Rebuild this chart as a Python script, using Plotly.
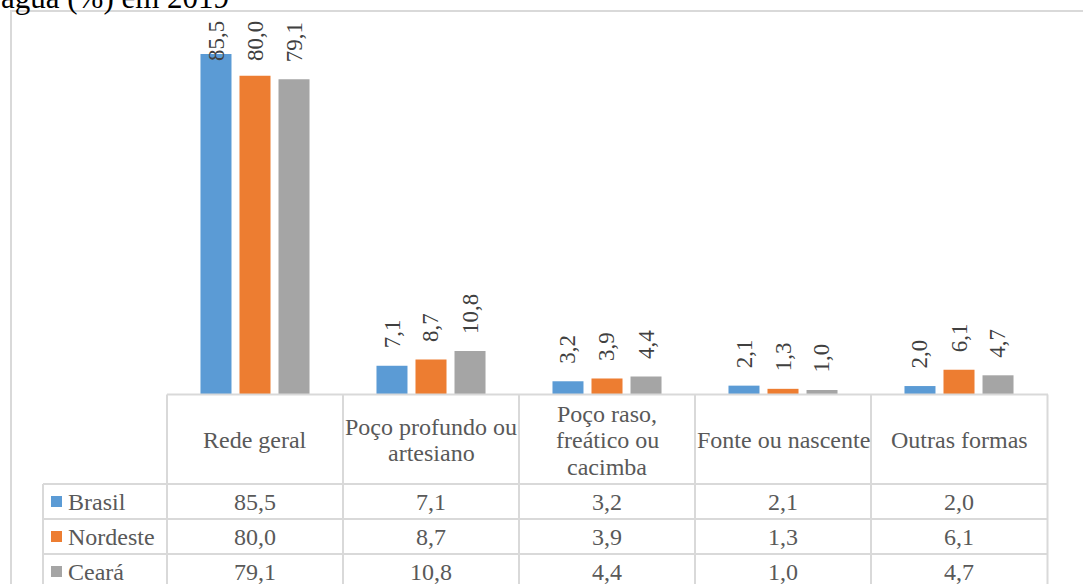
import plotly.graph_objects as go

categories = ["Rede geral", "Poço profundo ou artesiano", "Poço raso, freático ou cacimba",
              "Fonte ou nascente", "Outras formas"]
header_labels = ["Rede geral", "Poço profundo ou<br>artesiano", "Poço raso,<br>freático ou<br>cacimba",
                 "Fonte ou nascente", "Outras formas"]
series_names = ["Brasil", "Nordeste", "Ceará"]
brasil = [85.5, 7.1, 3.2, 2.1, 2.0]
nordeste = [80.0, 8.7, 3.9, 1.3, 6.1]
ceara = [79.1, 10.8, 4.4, 1.0, 4.7]
title_text = "água (%) em 2019"

series_values = [brasil, nordeste, ceara]
colors = ["#5b9bd5", "#ed7d31", "#a5a5a5"]

W, H = 1083, 584
L, R, T, B = 167, 36, 36, 190
PW, PH = W - L - R, H - T - B
YMAX = 90
FONT = "Times New Roman, Liberation Serif, DejaVu Serif, serif"
LINE_PITCH = 26.5


def px2x(px):
    return (px - L) / PW


def py2y(py):
    return (H - B - py) / PH


def fmt(v):
    return f"{v:.1f}".replace(".", ",")


fig = go.Figure()
for name, vals, col in zip(series_names, series_values, colors):
    fig.add_trace(go.Bar(x=categories, y=vals, name=name, marker_color=col,
                         marker_line_width=0, showlegend=False))

annotations = []
shapes = []

# rotated data labels
offsets = [-39, 0, 39]
label_len = 42
for vals, off in zip(series_values, offsets):
    for cat, v in zip(categories, vals):
        bar_top = (H - B) - v / YMAX * PH
        if bar_top - 17 - label_len < 20:
            annotations.append(dict(x=cat, xref="x", xshift=off, y=py2y(19), yref="paper",
                                    yanchor="top", xanchor="center", text=fmt(v), textangle=-90,
                                    showarrow=False, font=dict(family=FONT, size=23, color="#404040")))
        else:
            annotations.append(dict(x=cat, xref="x", xshift=off, y=v, yref="y", yshift=15,
                                    yanchor="bottom", xanchor="center", text=fmt(v), textangle=-90,
                                    showarrow=False, font=dict(family=FONT, size=23, color="#404040")))

# title (cropped at top, as in the source image)
annotations.append(dict(x=px2x(-1), y=py2y(-2), xref="paper", yref="paper", xanchor="left",
                        yanchor="middle", text=title_text, showarrow=False,
                        font=dict(family=FONT, size=31, color="#000000")))

# table header text (one annotation per line for tighter line spacing)
for cat, lab in zip(categories, header_labels):
    lines = lab.split("<br>")
    n = len(lines)
    for i, line in enumerate(lines):
        cy = 440 + (i - (n - 1) / 2) * LINE_PITCH
        annotations.append(dict(x=cat, xref="x", y=py2y(cy), yref="paper", yanchor="middle",
                                xanchor="center", text=line, showarrow=False,
                                font=dict(family=FONT, size=24, color="#595959")))

# table rows
row_centers = [501.5, 536.5, 571.5]
for name, vals, col, rc in zip(series_names, series_values, colors, row_centers):
    shapes.append(dict(type="rect", xref="paper", yref="paper", x0=px2x(51), x1=px2x(62),
                       y0=py2y(rc - 5.5), y1=py2y(rc + 5.5), fillcolor=col, line_width=0))
    annotations.append(dict(x=px2x(66), xref="paper", y=py2y(rc), yref="paper", xanchor="left",
                            yanchor="middle", text=name, showarrow=False,
                            font=dict(family=FONT, size=24, color="#595959")))
    for cat, v in zip(categories, vals):
        annotations.append(dict(x=cat, xref="x", y=py2y(rc), yref="paper", xanchor="center",
                                yanchor="middle", text=fmt(v), showarrow=False,
                                font=dict(family=FONT, size=24, color="#595959")))

grid = dict(color="#d9d9d9", width=2)
# outer chart border
shapes.append(dict(type="rect", xref="paper", yref="paper", x0=px2x(11), x1=px2x(1100),
                   y0=py2y(11), y1=py2y(620), line=grid, fillcolor="rgba(0,0,0,0)"))
# horizontal table lines
shapes.append(dict(type="line", xref="paper", yref="paper", x0=px2x(167), x1=px2x(1048),
                   y0=py2y(394.5), y1=py2y(394.5), line=grid))
for yy in [484, 519, 554]:
    shapes.append(dict(type="line", xref="paper", yref="paper", x0=px2x(43), x1=px2x(1048),
                       y0=py2y(yy), y1=py2y(yy), line=grid))
# vertical table lines
for xx in [167, 343, 519, 695, 871, 1047.5]:
    shapes.append(dict(type="line", xref="paper", yref="paper", x0=px2x(xx), x1=px2x(xx),
                       y0=py2y(394.5), y1=py2y(600), line=grid))
shapes.append(dict(type="line", xref="paper", yref="paper", x0=px2x(43), x1=px2x(43),
                   y0=py2y(484), y1=py2y(600), line=grid))

fig.update_layout(
    width=W, height=H,
    margin=dict(l=L, r=R, t=T, b=B, autoexpand=False),
    paper_bgcolor="white", plot_bgcolor="white",
    barmode="group", bargap=0.335, bargroupgap=0.205,
    xaxis=dict(showticklabels=False, showgrid=False, zeroline=False, showline=False, ticks=""),
    yaxis=dict(range=[0, YMAX], visible=False, showgrid=False, zeroline=False),
    annotations=annotations, shapes=shapes,
    showlegend=False,
)

fig.write_html("out.html")
